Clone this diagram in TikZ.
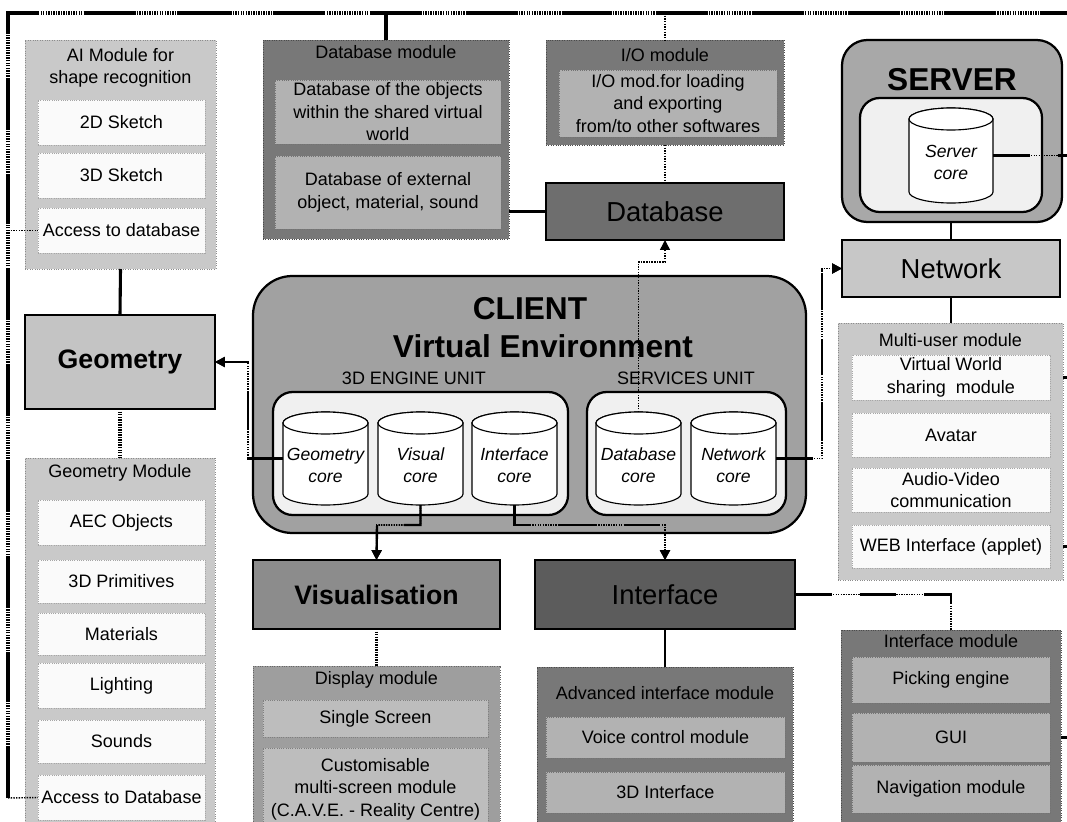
\documentclass[tikz,border=0pt]{standalone}
\usepackage{fontspec}
\setmainfont{Liberation Sans}
\usetikzlibrary{arrows.meta}
\newcommand{\drawcyl}[6]{%
  \filldraw[cylsty] (#2,#3+11) -- (#2,#5-11) arc[start angle=180,end angle=0,x radius={(#4-#2)/2},y radius=11] -- (#4,#3+11) arc[start angle=0,end angle=-180,x radius={(#4-#2)/2},y radius=11] -- cycle;
  \draw[cylsty] ({(#2+#4)/2},#3+11) ellipse[x radius={(#4-#2)/2},y radius=11];
  \node[sz={#4-#2}{#5-#3}] (#1) at ({(#2+#4)/2},{(#3+#5)/2}) {};
  \node[cyltxt] (#1-t) at ({(#2+#4)/2},{(#3+#5)/2+7}) {#6};
}
\begin{document}
\begin{tikzpicture}[x=0.025cm,y=-0.025cm,
  sz/.style 2 args={minimum width=(#1)*0.025cm, minimum height=(#2)*0.025cm, inner sep=0pt, outer sep=0pt},
  txt/.style={font=\fontsize{12.8}{16}\selectfont, align=center},
  bigtxt/.style={font=\fontsize{19.5}{23}\selectfont},
  bigbold/.style={font=\bfseries\fontsize{19}{23}\selectfont},
  hugetxt/.style={font=\bfseries\fontsize{22.5}{27}\selectfont},
  cyltxt/.style={font=\itshape\fontsize{12.5}{15.5}\selectfont, align=center, inner sep=0pt},
  cylsty/.style={draw=black, line width=0.8pt, fill=white},
  lightmod/.style={draw=black!45, densely dotted, fill=black!21, line width=0.7pt},
  whitebox/.style={draw=black!35, densely dotted, fill=black!2, line width=0.6pt, txt},
  darkmod/.style={draw=black!70, densely dotted, fill=black!53, line width=0.7pt},
  grayinner/.style={draw=black!55, densely dotted, fill=black!30, line width=0.6pt, txt},
  dispmodsty/.style={draw=black!60, densely dotted, fill=black!38, line width=0.7pt},
  dispinner/.style={draw=black!50, densely dotted, fill=black!26, line width=0.6pt, txt},
  mainbox/.style={draw=black, line width=1.6pt},
  thickln/.style={line width=2.2pt},
  thinln/.style={line width=0.9pt},
  hatch/.style={line width=2.2pt, dash pattern=on 1pt off 0.8pt},
  dotln/.style={line width=1pt, dash pattern=on 1pt off 0.9pt},
  bus/.style={line width=2.6pt, dash pattern=on 36pt off 32pt, preaction={draw, line width=2.2pt, dash pattern=on 1pt off 0.8pt}},
  mixln/.style={line width=1.7pt, dash pattern=on 26pt off 20pt, preaction={draw, line width=1.3pt, dash pattern=on 1pt off 0.8pt}},
  tip/.style={-{Triangle[length=7pt,width=7pt]}}
]
\useasboundingbox (0,0) rectangle (1067,822);
\fill[white] (0,0) rectangle (1067,822);
\clip (0,0) rectangle (1067,822);

% ---------- coordinates of the buses
\coordinate (busTL) at (8,13);
\coordinate (busBL) at (8,798);
\coordinate (busTR) at (1070,13);
\coordinate (edgeR) at (1070,0);
\coordinate (gcol) at (248,0);
\coordinate (ncol) at (822,0);
\coordinate (dbjog) at (665,262);
\coordinate (vjog) at (377,525);
\coordinate (ijog) at (665,525);

% ---------- AI module
\node[lightmod, sz={191}{229}] (aimod) at (120.5,154.5) {};
\node[txt] (aititle) at (120.5,68) {AI Module for\\shape recognition};
\node[whitebox, sz={167}{45}] (sk2) at (121.5,122.5) {2D Sketch};
\node[whitebox, sz={167}{45}] (sk3) at (121.5,175.5) {3D Sketch};
\node[whitebox, sz={167}{45}] (acc1) at (121.5,230.5) {Access to database};

% ---------- Geometry
\node[mainbox, line width=2pt, fill=black!23, sz={190}{94}, bigbold] (geombox) at (120,362) {Geometry};

% ---------- Geometry module
\node[lightmod, sz={190}{377}] (gmod) at (120,646.5) {};
\node[txt] (gmtitle) at (120,473) {Geometry Module};
\node[whitebox, sz={167}{45}] (aec) at (121.5,522.5) {AEC Objects};
\node[whitebox, sz={167}{43}] (prim) at (121.5,581.5) {3D Primitives};
\node[whitebox, sz={167}{42}] (mat) at (121.5,634) {Materials};
\node[whitebox, sz={167}{45}] (light) at (121.5,685.5) {Lighting};
\node[whitebox, sz={167}{43}] (snd) at (121.5,741.5) {Sounds};
\node[whitebox, sz={167}{45}] (acc2) at (121.5,797.5) {Access to Database};

% ---------- Database module
\node[darkmod, sz={246}{199}] (dbmod) at (386,139.5) {};
\node[txt] (dbtitle) at (386,52) {Database module};
\node[grayinner, sz={226}{64}] (dbobj) at (388,112) {Database of the objects\\within the shared virtual\\world};
\node[grayinner, sz={226}{73}] (dbext) at (388,192.5) {Database of external\\object, material, sound};

% ---------- I/O module
\node[darkmod, sz={238}{105}] (iomod) at (665,92.5) {};
\node[txt] (iotitle) at (665,55) {I/O module};
\node[grayinner, sz={218}{67}] (ioin) at (668,103.5) {I/O mod.for loading\\and exporting\\from/to other softwares};

% ---------- Database
\node[mainbox, fill=black!57, sz={238}{57}, bigtxt] (database) at (665,211.5) {Database};

% ---------- Server
\node[mainbox, rounded corners=18pt, fill=black!34, sz={220}{182}] (server) at (952,131) {};
\node[hugetxt] (srvtitle) at (952,80) {SERVER};
\node[mainbox, rounded corners=14pt, fill=black!6, sz={182}{114}] (srvin) at (951,155) {};
\drawcyl{srvcore}{909}{108}{993}{203}{Server\\core}

% ---------- Network
\node[mainbox, fill=black!22, sz={218}{57}, bigtxt] (network) at (951,268.5) {Network};

% ---------- Multi-user module
\node[lightmod, sz={225}{257}] (mumod) at (950.5,451.5) {};
\node[txt] (mutitle) at (950.5,340) {Multi-user module};
\node[whitebox, sz={198}{45}] (vw) at (951,377.5) {Virtual World\\sharing\ \ module};
\node[whitebox, sz={198}{44}] (avatar) at (951,435) {Avatar};
\node[whitebox, sz={198}{44}] (av) at (951,490) {Audio-Video\\communication};
\node[whitebox, sz={198}{43}] (web) at (951,546.5) {WEB Interface (applet)};

% ---------- CLIENT
\node[mainbox, rounded corners=28pt, fill=black!37, sz={553}{257}] (client) at (529.5,404.5) {};
\node[hugetxt] (cltitle) at (530,309) {CLIENT};
\node[hugetxt] (veltitle) at (543,346) {Virtual Environment};
\node[txt] (engtitle) at (414,378) {3D ENGINE UNIT};
\node[txt] (svctitle) at (686,378) {SERVICES UNIT};
\node[mainbox, rounded corners=14pt, fill=black!6, sz={295}{123}] (engine) at (420.5,453.5) {};
\node[mainbox, rounded corners=14pt, fill=black!6, sz={199}{123}] (services) at (686.5,453.5) {};
\drawcyl{geocore}{283}{412}{368}{505}{Geometry\\core}
\drawcyl{viscore}{378}{412}{463}{505}{Visual\\core}
\drawcyl{intcore}{472}{412}{557}{505}{Interface\\core}
\drawcyl{dbcore}{596}{412}{681}{505}{Database\\core}
\drawcyl{netcore}{691}{412}{776}{505}{Network\\core}

% ---------- Visualisation & Display module
\node[mainbox, fill=black!45, sz={247}{69}, bigbold] (visbox) at (376.5,594.5) {Visualisation};
\node[dispmodsty, sz={247}{169}] (dispmod) at (376.5,750.5) {};
\node[txt] (disptitle) at (376.5,680) {Display module};
\node[dispinner, sz={225}{37}] (single) at (375.5,718.5) {Single Screen};
\node[dispinner, sz={225}{82}] (multi) at (375.5,789) {Customisable\\multi-screen module\\(C.A.V.E. - Reality Centre)};

% ---------- Interface & modules
\node[mainbox, fill=black!64, sz={260}{69}, bigtxt] (intbox) at (665,594.5) {Interface};
\node[darkmod, sz={256}{168}] (advmod) at (665,751) {};
\node[txt] (advtitle) at (665,693) {Advanced interface module};
\node[grayinner, sz={239}{41}] (voice) at (665.5,737.5) {Voice control module};
\node[grayinner, sz={239}{41}] (int3d) at (665.5,792.5) {3D Interface};

\node[darkmod, sz={220}{205}] (intmod) at (951,732.5) {};
\node[txt] (imtitle) at (951,641) {Interface module};
\node[grayinner, sz={198}{46}] (pick) at (951,680) {Picking engine};
\node[grayinner, sz={198}{49}] (gui) at (951,737.5) {GUI};
\node[grayinner, sz={198}{48}] (nav) at (951,789) {Navigation module};

% ---------- connectors
\draw[bus] (busBL) -- (busTL) -- (busTR);
\draw[dotln] (busBL) -- (acc2.west);
\draw[dotln] (acc1.west -| busTL) -- (acc1.west);
\draw[thickln] (dbmod.north |- busTL) -- (dbmod.north);
\draw[dotln] (iomod.north |- busTL) -- (iomod.north);
\draw[dotln] (iomod.south) -- (database.north);
\draw[mixln] (database.west -| dbmod.east) -- (database.west);
\draw[thickln] (aimod.south) -- (geombox.north);
\draw[hatch] (geombox.south) -- (gmod.north);
\draw[mixln, tip] (geocore.west) -- (geocore.west -| gcol) -- (geombox.east -| gcol) -- (geombox.east);
\draw[mixln, tip] (netcore.east) -- (netcore.east -| ncol) -- (network.west -| ncol) -- (network.west);
\draw[dotln, tip] (dbcore.north) -- (dbcore.north |- dbjog) -- (dbjog) -- (database.south);
\draw[mixln, tip] (viscore.south) -- (viscore.south |- vjog) -- (vjog) -- (visbox.north);
\draw[mixln, tip] (intcore.south) -- (intcore.south |- ijog) -- (ijog) -- (intbox.north);
\draw[thinln] (network.north |- server.south) -- (network.north);
\draw[thinln] (network.south) -- (network.south |- mumod.north);
\draw[mixln] (srvcore.east) -- (srvcore.east -| edgeR);
\draw[thickln] (vw.east -| mumod.east) -- (vw.east -| edgeR);
\draw[thickln] (web.east -| mumod.east) -- (web.east -| edgeR);
\draw[thickln] (gui.east -| intmod.east) -- (gui.east -| edgeR);
\draw[hatch] (visbox.south) -- (dispmod.north);
\draw[thinln] (intbox.south) -- (advmod.north);
\draw[mixln] (intbox.east) -- (intbox.east -| intmod.north) -- (intmod.north);
\end{tikzpicture}
\end{document}
